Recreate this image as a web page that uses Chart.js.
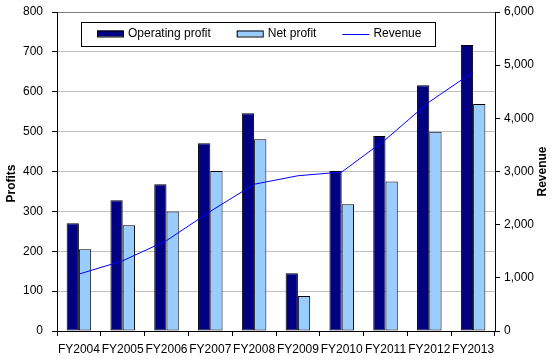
<!DOCTYPE html>
<html>
<head>
<meta charset="utf-8">
<script src="https://cdn.jsdelivr.net/npm/chart.js@4/dist/chart.umd.min.js"></script>
<style>
  body { margin: 0; background: #fff; }
  canvas { display: block; }
</style>
</head>
<body>
<canvas id="profitChart" width="556" height="363"></canvas>
<script>
// chart data
const years = ['FY2004', 'FY2005', 'FY2006', 'FY2007', 'FY2008', 'FY2009', 'FY2010', 'FY2011', 'FY2012', 'FY2013'];
const operatingProfit = [270, 328, 368, 471, 546, 145, 401, 489, 616, 717];
const netProfit = [205, 265, 300, 401, 481, 88, 318, 375, 500, 569];
const revenue = [1070, 1320, 1700, 2250, 2760, 2920, 2990, 3600, 4310, 4870];

const FONT = "'Liberation Sans', Arial, sans-serif";

// legend in a box inside the plot area + the two axis titles (Revenue reads bottom-to-top)
const boxLegend = {
  id: 'boxLegend',
  afterDraw(chart) {
    const ctx = chart.ctx;
    const area = chart.chartArea;
    const left = area.left + 24, top = area.top + 10;
    const w = 354, h = 24;
    const midY = top + h / 2;

    ctx.save();
    ctx.fillStyle = '#fff';
    ctx.fillRect(left, top, w, h);
    ctx.strokeStyle = '#000';
    ctx.lineWidth = 1;
    ctx.strokeRect(left + 0.5, top + 0.5, w, h);

    ctx.font = '12px ' + FONT;
    ctx.textBaseline = 'middle';
    let x = left + 16;
    chart.data.datasets.forEach(ds => {
      if (ds.type === 'line') {
        ctx.strokeStyle = ds.borderColor;
        ctx.beginPath();
        ctx.moveTo(x, Math.round(midY) + 0.5);
        ctx.lineTo(x + 27, Math.round(midY) + 0.5);
        ctx.stroke();
      } else {
        ctx.fillStyle = ds.backgroundColor;
        ctx.fillRect(x, midY - 3.5, 26, 6);
        ctx.strokeStyle = '#000';
        ctx.strokeRect(x + 0.5, midY - 3.5 + 0.5, 26, 6);
      }
      x += 31;
      ctx.fillStyle = '#000';
      ctx.fillText(ds.label, x, midY);
      x += ctx.measureText(ds.label).width + 26;
    });

    // axis titles
    ctx.font = 'bold 12px ' + FONT;
    ctx.textAlign = 'center';
    ctx.textBaseline = 'middle';
    ctx.fillStyle = '#000';
    ctx.save();
    ctx.translate(12, (area.top + area.bottom) / 2 + 12);
    ctx.rotate(-Math.PI / 2);
    ctx.fillText('Profits', 0, 0);
    ctx.restore();
    ctx.save();
    ctx.translate(chart.width - 13, (area.top + area.bottom) / 2);
    ctx.rotate(-Math.PI / 2);
    ctx.fillText('Revenue', 0, 0);
    ctx.restore();
    ctx.restore();
  }
};

// fixed axis sizes, and no extra top/bottom padding from the tick labels
function fixVertical(width) {
  return scale => {
    scale.width = width;
    scale.paddingTop = 0;
    scale.paddingBottom = 0;
  };
}

Chart.defaults.font.family = FONT;
Chart.defaults.font.size = 12;
Chart.defaults.color = '#000';

const ctx = document.getElementById('profitChart').getContext('2d');

const chartData = {
  labels: years,
  datasets: [
    {
      type: 'bar',
      label: 'Operating profit',
      data: operatingProfit,
      backgroundColor: '#000080',
      borderColor: '#000',
      borderWidth: 1,
      borderSkipped: false,
      yAxisID: 'y',
      order: 2
    },
    {
      type: 'bar',
      label: 'Net profit',
      data: netProfit,
      backgroundColor: '#99CCFF',
      borderColor: '#000',
      borderWidth: 1,
      borderSkipped: false,
      yAxisID: 'y',
      order: 2
    },
    {
      type: 'line',
      label: 'Revenue',
      data: revenue,
      borderColor: '#0000FF',
      backgroundColor: '#0000FF',
      borderWidth: 1,
      pointRadius: 0,
      tension: 0,
      fill: false,
      yAxisID: 'y1',
      order: 0
    }
  ]
};

const chartOptions = {
  responsive: false,
  animation: false,
  locale: 'en-US',
  layout: { padding: { top: 12, left: 0, right: 0, bottom: 0 } },
  datasets: {
    bar: { categoryPercentage: 0.56, barPercentage: 1 }
  },
  scales: {
    x: {
      offset: true,
      grid: { display: true, drawOnChartArea: false, tickLength: 5, tickColor: '#000' },
      border: { color: '#000' },
      ticks: { autoSkip: false, maxRotation: 0, padding: 6 },
      afterFit(scale) {
        scale.height = 32;
        scale.paddingLeft = 0;
        scale.paddingRight = 0;
      }
    },
    y: {
      position: 'left',
      min: 0,
      max: 800,
      ticks: { stepSize: 100, padding: 9 },
      grid: {
        color: c => c.tick.value === 800 ? '#808080' : (c.tick.value === 0 ? '#000' : '#c0c0c0'),
        tickColor: '#000',
        tickLength: 5
      },
      border: { color: '#000' },
      afterFit: fixVertical(57)
    },
    y1: {
      position: 'right',
      min: 0,
      max: 6000,
      ticks: { stepSize: 1000, padding: 4 },
      grid: { drawOnChartArea: false, tickColor: '#000', tickLength: 5 },
      border: { color: '#000' },
      afterFit: fixVertical(61)
    }
  },
  plugins: {
    legend: { display: false },
    tooltip: { enabled: false }
  }
};

new Chart(ctx, {
  data: chartData,
  options: chartOptions,
  plugins: [boxLegend]
});
</script>
</body>
</html>
